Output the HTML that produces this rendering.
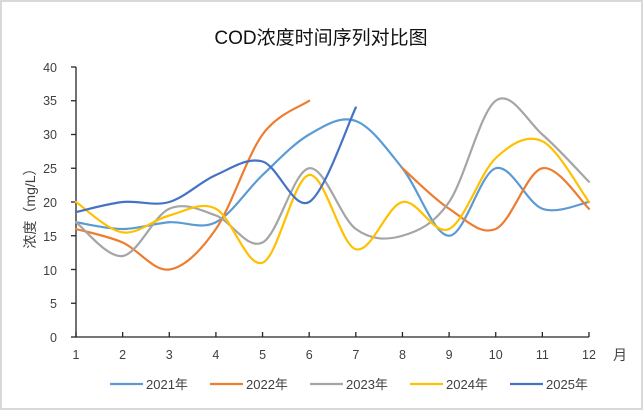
<!DOCTYPE html>
<html><head><meta charset="utf-8"><style>
html,body{margin:0;padding:0;background:#fff}
svg{display:block}
text{font-family:"Liberation Sans","Noto Sans CJK SC",sans-serif;fill:#404040}
</style></head><body>
<svg id="s" width="643" height="410" viewBox="0 0 643 410" xmlns="http://www.w3.org/2000/svg">
<rect x="1" y="1" width="641" height="408" fill="#fff" stroke="#d9d9d9" stroke-width="2"/>
<text x="321" y="44" font-size="19" text-anchor="middle" fill="#000" style="fill:#111">COD浓度时间序列对比图</text>
<g font-size="12.5" text-anchor="end">
<text x="57" y="342">0</text><text x="57" y="275">10</text><text x="57" y="241">15</text>
<text x="57" y="308">5</text><text x="57" y="207">20</text><text x="57" y="173">25</text>
<text x="57" y="139">30</text><text x="57" y="105">35</text><text x="57" y="72">40</text>
</g>
<text transform="translate(35,205) rotate(-90)" font-size="14" text-anchor="middle">浓度（mg/L）</text>
<g id="ax" stroke="#262626" stroke-width="1.3" fill="none"></g>
<g id="xl" font-size="12.5" text-anchor="middle"></g>
<text x="620" y="360" font-size="14" text-anchor="middle">月</text>
<g id="ser" fill="none" stroke-width="2.2" stroke-linecap="round"></g>
<g id="leg" font-size="13"></g>
</svg>
<script>
var X0=76,DX=(589-76)/11,Y0=337,K=6.75;
function px(i){return X0+DX*i}function py(v){return Y0-v*K}
var ax=document.getElementById('ax'),h='';
h+='<path d="M76 67V337H589"/>';
for(var v=0;v<=40;v+=5)h+='<path d="M71 '+py(v)+'H76"/>';
for(var i=0;i<12;i++)h+='<path d="M'+px(i)+' 337V332"/>';
ax.innerHTML=h;
var xl='';for(i=0;i<12;i++)xl+='<text x="'+px(i)+'" y="359">'+(i+1)+'</text>';
document.getElementById('xl').innerHTML=xl;
function path(pts){var d='M'+pts[0][0]+' '+pts[0][1];
for(var i=0;i<pts.length-1;i++){var p0=pts[i-1]||pts[i],p1=pts[i],p2=pts[i+1],p3=pts[i+2]||p2,t=1/6;
d+='C'+(p1[0]+(p2[0]-p0[0])*t)+' '+(p1[1]+(p2[1]-p0[1])*t)+' '+(p2[0]-(p3[0]-p1[0])*t)+' '+(p2[1]-(p3[1]-p1[1])*t)+' '+p2[0]+' '+p2[1];}
return d;}
function seg(start,vals){return vals.map(function(v,j){return [px(start+j),py(v)]})}
var S=[
['#5B9BD5',[[0,[17,16,17,17,24,30,32,25,15,25,19,20]]],'2021年'],
['#ED7D31',[[0,[16,14,10,16,30,35]],[7,[25,19,16,25,19]]],'2022年'],
['#A5A5A5',[[0,[17,12,19,18,14,25,16,15,20,35,30,23]]],'2023年'],
['#FFC000',[[0,[20,15.5,18,19,11,24,13,20,16,26.5,29,20]]],'2024年'],
['#4472C4',[[0,[18.5,20,20,24,26,20,34]]],'2025年']];
var g='',lg='';
S.forEach(function(s,k){s[1].forEach(function(p){g+='<path stroke="'+s[0]+'" d="'+path(seg(p[0],p[1]))+'"/>'});
var lx=110+100*k;lg+='<path d="M'+lx+' 384H143'.replace('143',lx+33)+'" stroke="'+s[0]+'" stroke-width="2.2"/><text x="'+(lx+36)+'" y="389">'+s[2]+'</text>';});
document.getElementById('ser').innerHTML=g;document.getElementById('leg').innerHTML=lg;
</script>
</body></html>
